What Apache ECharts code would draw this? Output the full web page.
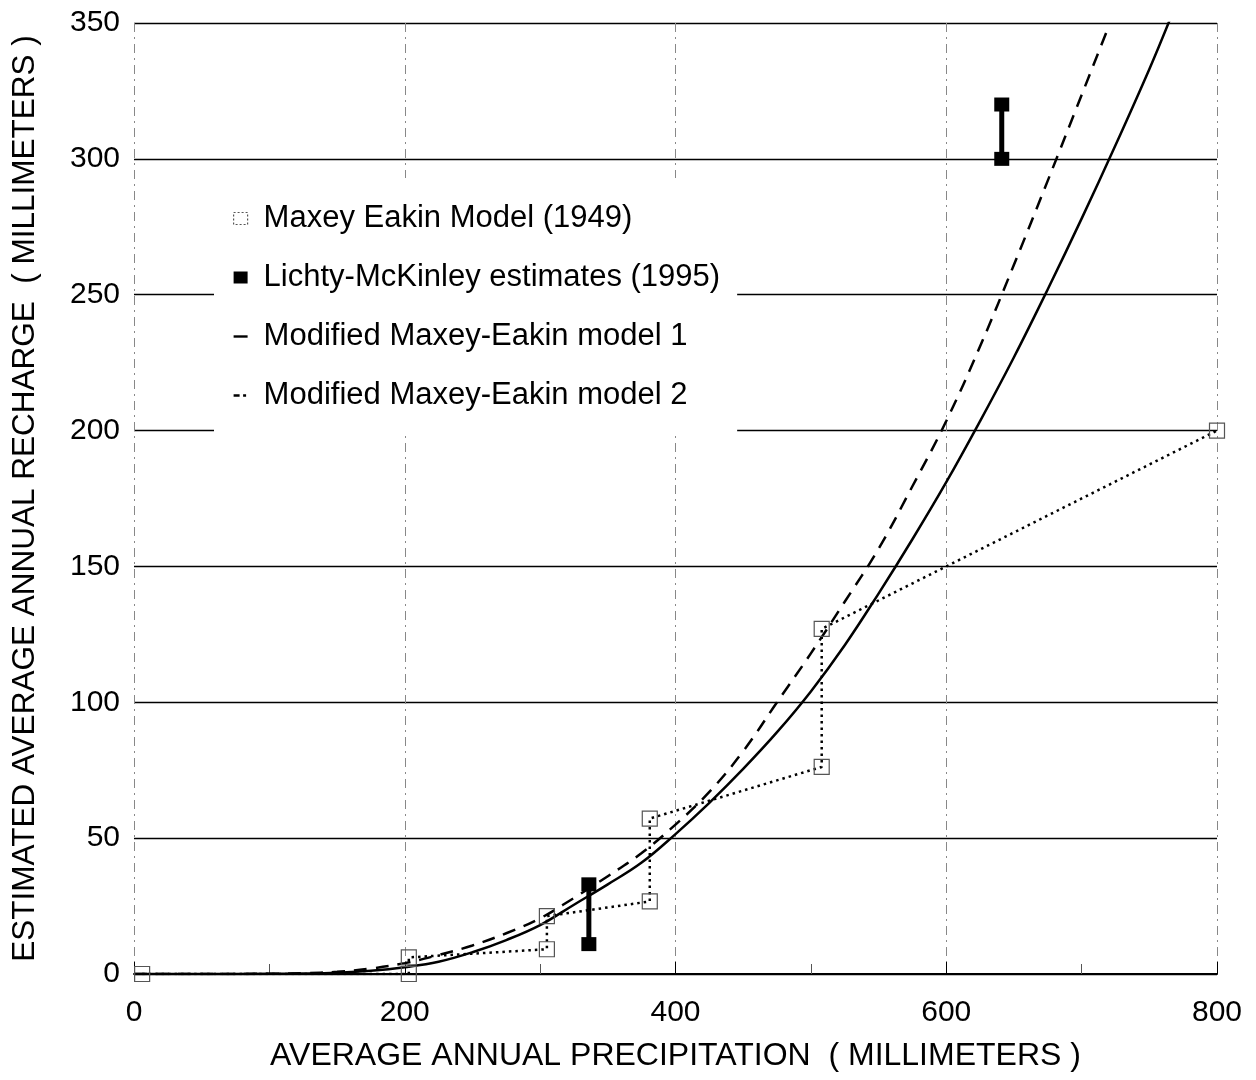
<!DOCTYPE html>
<html>
<head>
<meta charset="utf-8">
<script src="https://cdn.jsdelivr.net/npm/echarts@6/dist/echarts.min.js"></script>
<style>
  html, body { margin: 0; padding: 0; background: #fff; }
  #chart { width: 1256px; height: 1080px; }
</style>
</head>
<body>
<div id="chart"></div>
<script>
// Axis tick values (millimeters)
const precipTicks = [0, 200, 400, 600, 800];
const rechargeTicks = [0, 50, 100, 150, 200, 250, 300, 350];

// Maxey-Eakin model (1949): stepped recharge by precipitation zone
const maxeyPrecip   = [6, 203, 203, 305, 305, 381, 381, 508, 508, 800];
const maxeyRecharge = [0, 0, 6.1, 9.1, 21.3, 26.7, 57.2, 76.2, 127, 200];

// Lichty-McKinley estimates (1995): low / high range at two sites
const lichtyPrecip = [336, 641];
const lichtyLow    = [11, 300];
const lichtyHigh   = [33, 320];

// Modified Maxey-Eakin model 1
const model1Precip   = [0, 50, 100, 125, 150, 175, 200, 225, 250, 275, 300, 325, 350, 375, 400, 425, 450, 475, 500, 525, 550, 575, 600, 625, 650, 675, 700, 725, 750, 765];
const model1Recharge = [0, 0, 0.1, 0.2, 0.5, 1.2, 2.5, 4.5, 8, 12.5, 18, 25.5, 33, 41, 51.5, 63, 75.5, 89, 104, 121, 140, 160, 181, 203.5, 227, 252, 278, 305, 333, 351];

// Modified Maxey-Eakin model 2
const model2Precip   = [0, 50, 100, 125, 150, 175, 200, 225, 250, 275, 300, 325, 350, 375, 400, 425, 450, 475, 500, 525, 550, 575, 600, 625, 650, 675, 700, 719];
const model2Recharge = [0, 0, 0.1, 0.3, 0.8, 2.0, 4.0, 7, 10.5, 15, 20.5, 28, 36, 44.5, 55, 67, 82, 100, 118, 137, 156.5, 179.5, 203.5, 231, 261, 292, 323.5, 347.5];

const NAME_MAXEY  = 'Maxey Eakin Model (1949)';
const NAME_LICHTY = 'Lichty-McKinley estimates (1995)';
const NAME_M1     = 'Modified Maxey-Eakin model 1';
const NAME_M2     = 'Modified Maxey-Eakin model 2';

const zip = (xs, ys) => xs.map((x, i) => [x, ys[i]]);
const step = (arr) => arr[1] - arr[0];

const FONT = "'Liberation Sans', Arial, sans-serif";

// Legend glyphs: a short solid stroke and a dash-dot stroke (corner moves fix the icon box)
const ICON_SOLID = 'path://M0,4.8H14V7.2H0Z M0,0L0,0 M14,12L14,12';
const ICON_DASH  = 'path://M0,4.8H6V7.2H0Z M9.5,4.8H12.5V7.2H9.5Z M0,0L0,0 M14,12L14,12';

const lichtySeries = lichtyPrecip.map((x, i) => ({
  name: NAME_LICHTY,
  type: 'line',
  data: [[x, lichtyLow[i]], [x, lichtyHigh[i]]],
  symbol: 'rect',
  symbolSize: [15, 14],
  lineStyle: { color: '#000', width: 5 },
  itemStyle: { color: '#000' },
  z: 5
}));

const chart = echarts.init(document.getElementById('chart'), null, { renderer: 'canvas' });
chart.setOption({
  animation: false,
  backgroundColor: '#fff',
  grid: { left: 134, right: 39, top: 23, bottom: 106, containLabel: false, outerBoundsMode: 'none' },
  legend: {
    orient: 'vertical',
    left: 214,
    top: 178,
    padding: [25, 17, 25, 19],
    itemGap: 28,
    itemWidth: 14,
    itemHeight: 12,
    backgroundColor: '#fff',
    selectedMode: false,
    textStyle: { fontFamily: FONT, fontSize: 31, color: '#000', lineHeight: 31, padding: [0, 0, 0, 11] },
    data: [
      { name: NAME_MAXEY, icon: 'rect', itemStyle: { color: '#fff', borderColor: '#555', borderWidth: 1.2, borderType: [2, 2] } },
      { name: NAME_LICHTY, icon: 'rect', itemStyle: { color: '#000' } },
      { name: NAME_M1, icon: ICON_SOLID, itemStyle: { color: '#000' } },
      { name: NAME_M2, icon: ICON_DASH, itemStyle: { color: '#000' } }
    ]
  },
  xAxis: {
    type: 'value',
    min: precipTicks[0],
    max: precipTicks[precipTicks.length - 1],
    interval: step(precipTicks),
    name: 'AVERAGE ANNUAL PRECIPITATION  ( MILLIMETERS )',
    nameLocation: 'middle',
    nameGap: 66,
    nameTextStyle: { fontFamily: FONT, fontSize: 32, color: '#000' },
    axisLine: { show: true, lineStyle: { color: '#000', width: 2 } },
    axisTick: { show: true, inside: true, length: 12, lineStyle: { color: '#000', width: 1 } },
    minorTick: { show: true, splitNumber: 2, length: 10, lineStyle: { color: '#555', width: 1 } },
    axisLabel: { fontFamily: FONT, fontSize: 30, color: '#000', margin: 24, hideOverlap: false },
    splitLine: { show: true, lineStyle: { color: '#888', width: 1, type: [9, 5, 2, 5] } }
  },
  yAxis: {
    type: 'value',
    min: rechargeTicks[0],
    max: rechargeTicks[rechargeTicks.length - 1],
    interval: step(rechargeTicks),
    name: 'ESTIMATED AVERAGE ANNUAL RECHARGE  ( MILLIMETERS )',
    nameLocation: 'middle',
    nameGap: 93,
    nameRotate: 90,
    nameTextStyle: { fontFamily: FONT, fontSize: 31.5, color: '#000' },
    axisLine: { show: false },
    axisTick: { show: false },
    axisLabel: { fontFamily: FONT, fontSize: 30, color: '#000', margin: 14, hideOverlap: false },
    splitLine: { show: true, lineStyle: { color: '#000', width: 1.3 } }
  },
  series: [
    {
      name: NAME_MAXEY,
      type: 'line',
      data: zip(maxeyPrecip, maxeyRecharge),
      symbol: 'rect',
      symbolSize: 15,
      lineStyle: { color: '#000', width: 2.5, type: [2.5, 4] },
      itemStyle: { color: 'rgba(255,255,255,0)', borderColor: '#555', borderWidth: 1.2 },
      z: 4
    },
    ...lichtySeries,
    {
      name: NAME_M1,
      type: 'line',
      data: zip(model1Precip, model1Recharge),
      smooth: 0.4,
      symbol: 'none',
      lineStyle: { color: '#000', width: 2.5 },
      itemStyle: { color: '#000' },
      z: 3
    },
    {
      name: NAME_M2,
      type: 'line',
      data: zip(model2Precip, model2Recharge),
      smooth: 0.4,
      symbol: 'none',
      lineStyle: { color: '#000', width: 2.5, type: [13, 9] },
      itemStyle: { color: '#000' },
      z: 3
    }
  ]
});
</script>
</body>
</html>
